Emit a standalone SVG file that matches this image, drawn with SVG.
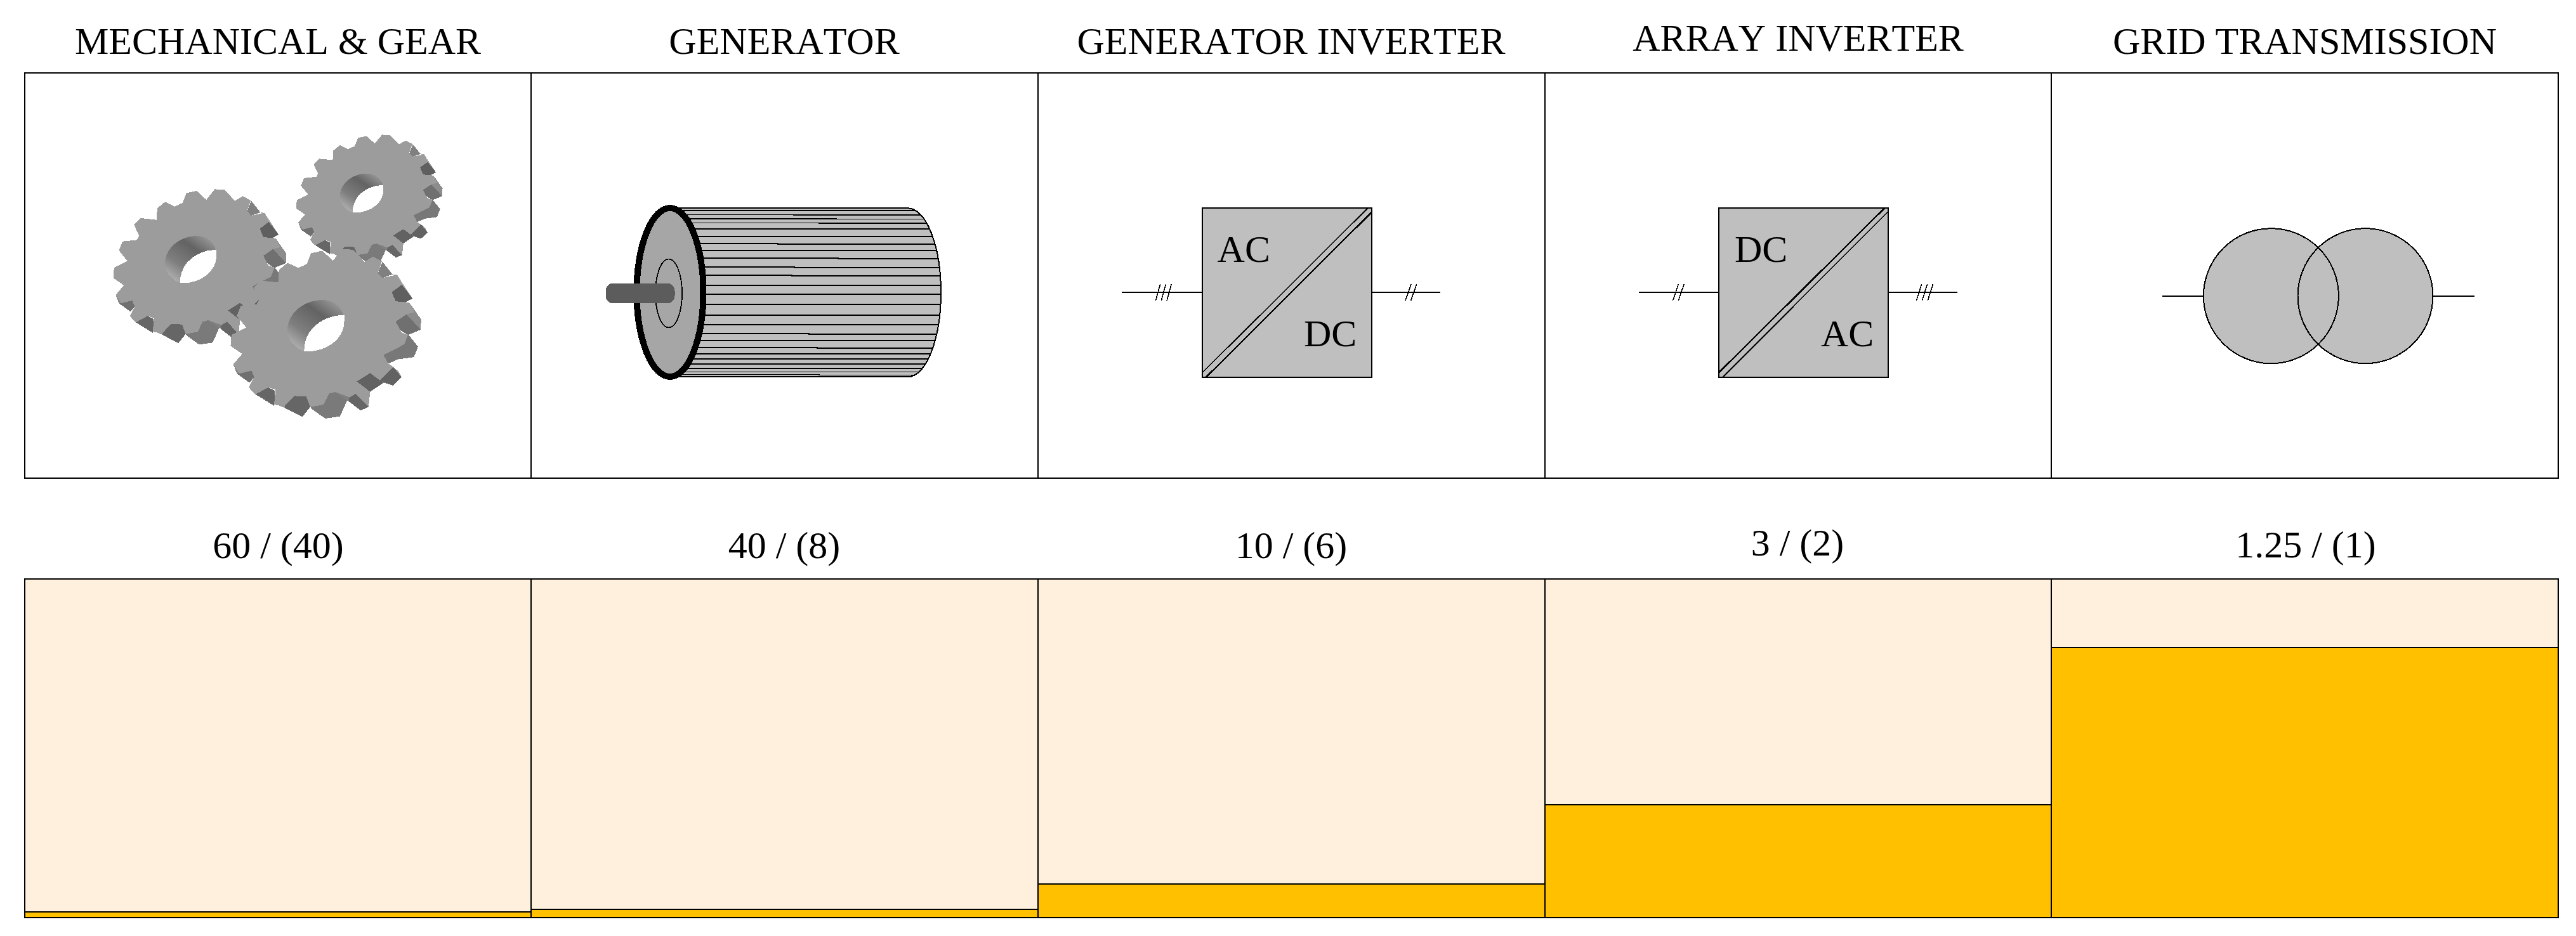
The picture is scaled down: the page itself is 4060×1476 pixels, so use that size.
<svg xmlns="http://www.w3.org/2000/svg" xmlns:xlink="http://www.w3.org/1999/xlink" width="4060" height="1476" viewBox="0 0 4060 1476">
<style>
rect,path,circle,ellipse{shape-rendering:crispEdges}
text{font-family:"Liberation Serif","Times New Roman",serif;font-size:60px;fill:#000;font-kerning:none}
.c{text-anchor:middle}
.cell{fill:#fff;stroke:#000;stroke-width:2}
.bar{fill:#FEF0DC;stroke:#000;stroke-width:2}
.val{fill:#FFC000;stroke:#000;stroke-width:2}
.sym{fill:#BFBFBF;stroke:#000;stroke-width:2}
.ln{fill:none;stroke:#000;stroke-width:2}
.tk{fill:none;stroke:#000;stroke-width:1.6}
.thin{fill:none;stroke:#000;stroke-width:1.6}
.thick{fill:none;stroke:#000;stroke-width:2.4}
</style>
<defs>
<linearGradient id="wall" x1="0.85" y1="0" x2="0.05" y2="1">
<stop offset="0" stop-color="#9c9c9c"/><stop offset="0.3" stop-color="#636363"/><stop offset="0.65" stop-color="#7e7e7e"/><stop offset="1" stop-color="#c0c0c0"/>
</linearGradient>
<clipPath id="bodyClip"><path d="M1056 328.300H1431A52 133 0 0 1 1431 594.300H1056Z"/></clipPath>
<g id="gear">
<path fill="#a8a8a8" d="M733 495L750 497L808 600L763 533Z"/>
<path fill="#808080" d="M678 490L695 440L733 495L695 510Z"/>
<path fill="#5f5f5f" d="M730 572L763 533L808 600L775 620L745 612Z"/>
<path fill="#8c8c8c" d="M795 617L840 690L838 735L785 668Z"/>
<path fill="#707070" d="M745 700L785 668L838 735L790 758L760 735Z"/>
<path fill="#787878" d="M699 845L776 799L790 753L828 808L813 854L754 863L717 882Z"/>
<path fill="#707070" d="M150 925L205 912L215 940L198 965Z"/>
<path fill="#747474" d="M127 805L178 815L170 840Z"/>
<path fill="#888" d="M137 885L150 925L205 912L160 900Z"/>
<path fill="#999" d="M195 985L218 1015L330 1075L395 1113L345 1050Z"/>
<path fill="#666" d="M220 1015L268 985L293 1000L290 1065Z"/>
<path fill="#666" d="M330 1065L365 1022L410 1025L425 1070L395 1113L330 1075Z"/>
<path fill="#7a7a7a" d="M425 1070L475 1060L495 1012L518 1005L563 1042L536 1111L481 1120L431 1079Z"/>
<path fill="#808080" d="M518 1005L572 1028L568 1045L563 1042Z"/>
<path fill="#666" d="M572 1028L595 1010L643 1070L613 1085L568 1045Z"/>
<path fill="#a0a0a0" d="M735 896L755 915L767 941Z"/>
<path fill="#626262" d="M686 955L735 896L767 941L735 977Z"/>
<path fill="#808080" d="M649 923L686 955L735 977L699 965Z"/>
<path fill="#626262" d="M599 959L649 923L699 965L649 1004Z"/>
<path fill="#9c9c9c" d="M545 385L585 388L628 440L660 418L693 438L678 490L695 510L748 497L768 540L730 572L745 612L795 617L815 660L785 668L745 700L765 745L790 758L776 799L699 845L717 882L735 896L686 955L649 923L599 959L649 1004L643 1070L595 1012L572 1028L518 1005L495 1012L475 1060L425 1070L410 1025L365 1022L330 1065L290 1060L295 995L268 985L220 1015L195 985L215 940L205 912L160 925L137 885L170 840L127 805L130 757L185 725L150 675L165 632L225 625L233 605L212 553L240 522L305 530L308 475L340 445L380 467L412 450L428 403L470 393L510 435Z"/>
<path fill="url(#wall)" d="M470 606C515 606 552 640 552 700C552 760 490 828 420 829C400 829 385 825 370 805C345 785 338 755 340 725C345 660 405 606 470 606Z"/>
<path fill="#fff" d="M552 672C505 670 460 695 432 730C412 758 402 790 402 829C485 834 552 775 552 700Z"/>
</g>
</defs>
<rect width="4060" height="1476" fill="#fff"/>

<g id="mechanical-gear">
<rect class="cell" x="39" y="114.700" width="798" height="639"/>
<text class="c" x="438" y="85">MECHANICAL &amp; GEAR</text>
<g transform="translate(130 170) scale(0.38268 0.33333)">
<use xlink:href="#gear" href="#gear" transform="translate(772.600 -192.800) scale(0.846 0.831)"/>
<use xlink:href="#gear" href="#gear"/>
<use xlink:href="#gear" href="#gear" transform="translate(470.200 248) scale(1.101 1.091)"/>
</g>
</g>

<g id="generator">
<rect class="cell" x="837" y="114.700" width="799" height="639"/>
<text class="c" x="1236" y="85">GENERATOR</text>
<path fill="#BFBFBF" d="M1056 328.300H1431A52 133 0 0 1 1431 594.300H1056Z"/>
<g clip-path="url(#bodyClip)">
<path class="thin" d="M1056 331.700H1490M1056 338.300H1251V339H1490M1056 344.700H1318V345.300H1490M1056 351.300H1291V352H1490M1056 360.700H1490M1056 372.700H1490M1056 384H1226V385H1490M1056 395H1490M1056 406.700H1321V407.700H1490M1056 421H1252V422H1490M1056 434H1248V435H1490M1056 450H1490M1056 464H1490M1056 480H1490M1056 496.700H1490M1056 511.700H1490M1056 525.700H1275V527H1490M1056 537H1490M1056 547.700H1288V548.700H1490M1056 557.700H1490M1056 565.700H1490M1056 573.700H1490M1056 580.700H1490M1056 586.300H1490M1056 590.300H1291V591.300H1490"/>
</g>
<path class="ln" d="M1056 328.300H1431A52 133 0 0 1 1431 594.300H1056"/>
<ellipse cx="1056" cy="461" rx="52.500" ry="133" fill="#A6A6A6" stroke="#000" stroke-width="10"/>
<ellipse cx="1054" cy="462.500" rx="21" ry="54" fill="none" stroke="#000" stroke-width="1.800"/>
<rect x="954.500" y="446.700" width="109" height="31.700" rx="12" ry="12" fill="#5C5C5C"/>
</g>

<g id="generator-inverter">
<rect class="cell" x="1636" y="114.700" width="799" height="639"/>
<text class="c" x="2035" y="85">GENERATOR INVERTER</text>
<rect class="sym" x="1895" y="328" width="266.500" height="267"/>
<path class="thin" d="M1895.400 587.300L2156 328"/>
<path class="thick" d="M1900.700 595L2161.400 335"/>
<text x="1918.600" y="413.300">AC</text>
<text x="2055" y="546">DC</text>
</g>

<g id="array-inverter">
<rect class="cell" x="2435" y="114.700" width="798" height="639"/>
<text class="c" x="2834" y="80">ARRAY INVERTER</text>
<rect class="sym" x="2709" y="328" width="267.400" height="267"/>
<path class="thick" d="M2709.600 587L2970.400 328"/>
<path class="thin" d="M2715 595L2975.700 334"/>
<text x="2734" y="412.700">DC</text>
<text x="2870" y="546">AC</text>
</g>

<g id="grid-transmission">
<rect class="cell" x="3233" y="114.700" width="799" height="639"/>
<text class="c" x="3632.500" y="85">GRID TRANSMISSION</text>
<circle cx="3579.400" cy="466.700" r="106.500" fill="#BFBFBF"/>
<circle cx="3728" cy="466.700" r="106.500" fill="#BFBFBF"/>
<circle class="ln" cx="3579.400" cy="466.700" r="106.500"/>
<circle class="ln" cx="3728" cy="466.700" r="106.500"/>
</g>

<g id="bar-mechanical">
<text class="c" x="438.500" y="880">60 / (40)</text>
<rect class="bar" x="39" y="913.300" width="798" height="533.400"/>
<rect class="val" x="39" y="1437.700" width="798" height="9"/>
</g>
<g id="bar-generator">
<text class="c" x="1236" y="880">40 / (8)</text>
<rect class="bar" x="837" y="913.300" width="799" height="533.400"/>
<rect class="val" x="837" y="1433.700" width="799" height="13"/>
</g>
<g id="bar-generator-inverter">
<text class="c" x="2035" y="880">10 / (6)</text>
<rect class="bar" x="1636" y="913.300" width="799" height="533.400"/>
<rect class="val" x="1636" y="1393.700" width="799" height="53"/>
</g>
<g id="bar-array-inverter">
<text class="c" x="2833" y="876">3 / (2)</text>
<rect class="bar" x="2435" y="913.300" width="798" height="533.400"/>
<rect class="val" x="2435" y="1269" width="798" height="177.700"/>
</g>
<g id="bar-grid-transmission">
<text class="c" x="3634" y="879.300">1.25 / (1)</text>
<rect class="bar" x="3233" y="913.300" width="799" height="533.400"/>
<rect class="val" x="3233" y="1020.700" width="799" height="426"/>
</g>

<g id="connectors">
<path class="ln" d="M1768 460.700H1895M2161 460.700H2270M2583 460.700H2709M2976 460.700H3085M3408 466.700H3473M3834 466.700H3900"/>
<path class="tk" d="M1821.400 474.300L1828.600 448.300M1830.200 474.300L1837.400 448.300M1839 474.300L1846.200 448.300M2215 474.300L2224 448.300M2223.600 474.300L2232.600 448.300M2636.400 474.300L2645.400 448.300M2645.200 474.300L2654.200 448.300M3020.400 474.300L3028.600 448.300M3029.300 474.300L3037.500 448.300M3038.200 474.300L3046.400 448.300"/>
</g>
</svg>
